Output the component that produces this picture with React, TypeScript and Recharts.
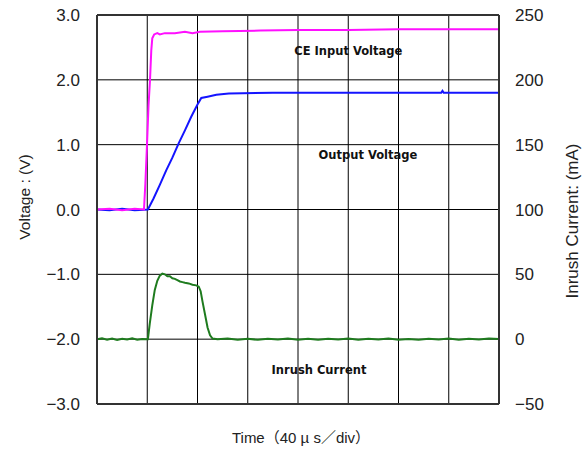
import { LineChart, Line, XAxis, YAxis, CartesianGrid, ReferenceDot, ReferenceLine } from "recharts";

// time in µs (40 µs per division), voltages in V, current in mA
const timeTicks = [0, 40, 80, 120, 160, 200, 240, 280, 320];
const voltTicks = [-3, -2, -1, 0, 1, 2, 3];
const currentTicks = [-50, 0, 50, 100, 150, 200, 250];

const ceInput = [
  { t: 0, v: 0 }, { t: 10, v: 0.01 }, { t: 20, v: -0.01 }, { t: 30, v: 0.01 }, { t: 37.4, v: 0 },
  { t: 38.5, v: 0.4 }, { t: 39.8, v: 1.0 }, { t: 41, v: 1.6 }, { t: 42.2, v: 2.0 }, { t: 43.2, v: 2.45 },
  { t: 44, v: 2.64 }, { t: 45.5, v: 2.7 }, { t: 48, v: 2.72 }, { t: 50, v: 2.7 }, { t: 54, v: 2.72 },
  { t: 62, v: 2.72 }, { t: 70, v: 2.74 }, { t: 76, v: 2.72 }, { t: 82, v: 2.74 }, { t: 100, v: 2.75 },
  { t: 130, v: 2.76 }, { t: 160, v: 2.77 }, { t: 200, v: 2.77 }, { t: 240, v: 2.78 }, { t: 280, v: 2.78 },
  { t: 320, v: 2.78 },
];

const outputV = [
  { t: 0, v: 0 }, { t: 10, v: -0.01 }, { t: 20, v: 0.01 }, { t: 30, v: -0.01 }, { t: 40.5, v: 0 },
  { t: 45, v: 0.17 }, { t: 50, v: 0.38 }, { t: 55, v: 0.6 }, { t: 60, v: 0.8 }, { t: 65, v: 1.02 },
  { t: 70, v: 1.22 }, { t: 75, v: 1.43 }, { t: 80, v: 1.62 }, { t: 83, v: 1.72 }, { t: 88, v: 1.74 },
  { t: 95, v: 1.77 }, { t: 105, v: 1.79 }, { t: 140, v: 1.8 }, { t: 200, v: 1.8 }, { t: 274, v: 1.8 },
  { t: 275, v: 1.83 }, { t: 276, v: 1.8 }, { t: 320, v: 1.8 },
];

const inrush = [
  { t: 0, i: 0 }, { t: 4, i: 0.6 }, { t: 8, i: -0.4 }, { t: 12, i: 0.5 }, { t: 16, i: -0.6 },
  { t: 20, i: 0.3 }, { t: 24, i: -0.3 }, { t: 28, i: 0.6 }, { t: 32, i: -0.5 }, { t: 36, i: 0.2 },
  { t: 40.5, i: 0 }, { t: 42, i: 12 }, { t: 44, i: 26 }, { t: 46, i: 38 }, { t: 48, i: 45 },
  { t: 50, i: 49 }, { t: 52, i: 50.5 }, { t: 54, i: 50 }, { t: 56, i: 48.5 }, { t: 58, i: 48.5 },
  { t: 60, i: 47 }, { t: 62, i: 46.5 }, { t: 64, i: 45.5 }, { t: 66, i: 44.5 }, { t: 68, i: 44 },
  { t: 70, i: 43.5 }, { t: 73, i: 43 }, { t: 76, i: 42 }, { t: 79, i: 41.5 }, { t: 81, i: 40.5 },
  { t: 82.5, i: 37 }, { t: 84, i: 29 }, { t: 86, i: 19 }, { t: 88, i: 9 }, { t: 90, i: 3 },
  { t: 92, i: 0.5 }, { t: 96, i: 0 }, { t: 104, i: 0.5 }, { t: 112, i: -0.4 }, { t: 120, i: 0.3 },
  { t: 128, i: -0.5 }, { t: 136, i: 0.4 }, { t: 144, i: -0.3 }, { t: 152, i: 0.6 }, { t: 160, i: -0.4 },
  { t: 168, i: 0.3 }, { t: 176, i: -0.5 }, { t: 184, i: 0.4 }, { t: 192, i: -0.2 }, { t: 200, i: 0.5 },
  { t: 208, i: -0.5 }, { t: 216, i: 0.3 }, { t: 224, i: -0.3 }, { t: 232, i: 0.5 }, { t: 240, i: -0.4 },
  { t: 248, i: 0.2 }, { t: 256, i: -0.5 }, { t: 264, i: 0.4 }, { t: 272, i: -0.3 }, { t: 280, i: 0.5 },
  { t: 288, i: -0.4 }, { t: 296, i: 0.3 }, { t: 304, i: -0.3 }, { t: 312, i: 0.6 }, { t: 320, i: 0.2 },
];

const FONT = "'Liberation Sans', Arial, 'Noto Sans CJK JP', sans-serif";

const fmtVolt = (v: number) => (v < 0 ? "\u2212" : "") + Math.abs(v).toFixed(1);
const fmtCurrent = (v: number) => (v < 0 ? "\u2212" + Math.abs(v) : String(v));

const AxisTitle = ({ viewBox, value, dx = 0, dy = 0, angle = 0, size = 15 }: any) => {
  const cx = viewBox.x + viewBox.width / 2 + dx;
  const cy = viewBox.y + viewBox.height / 2 + dy;
  return (
    <text
      x={cx}
      y={cy}
      textAnchor="middle"
      dominantBaseline="central"
      transform={angle ? `rotate(${angle} ${cx} ${cy})` : undefined}
      fontSize={size}
      fontFamily={FONT}
      fill="#222"
    >
      {value}
    </text>
  );
};

const Note = ({ viewBox, value }: any) => (
  <text
    x={viewBox.x}
    y={viewBox.y}
    textAnchor="middle"
    dominantBaseline="central"
    fontSize={11.5}
    fontWeight="bold"
    fontFamily="'DejaVu Sans', sans-serif"
    fill="#111"
  >
    {value}
  </text>
);

const tickStyle = { fontSize: 17, fill: "#222", fontFamily: FONT };

export default function App() {
  return (
    <div style={{ position: "absolute", left: 0, top: 0, background: "#fff" }}>
      <LineChart width={588} height={451} margin={{ top: 15, right: 0, bottom: 0, left: 0 }}>
        <CartesianGrid yAxisId="v" stroke="#000" strokeWidth={1} />
        <XAxis
          dataKey="t"
          type="number"
          domain={[0, 320]}
          ticks={timeTicks}
          tickFormatter={() => ""}
          tickLine={false}
          height={47}
          axisLine={{ stroke: "#333", strokeWidth: 2 }}
          allowDataOverflow
          label={{ value: "Time（40 µ s／div）", content: (p: any) => <AxisTitle {...p} value="Time（40 µ s／div）" dx={3} dy={9.5} size={15} /> }}
        />
        <YAxis
          yAxisId="v"
          orientation="left"
          width={97}
          domain={[-3, 3]}
          ticks={voltTicks}
          tickFormatter={fmtVolt}
          tick={tickStyle}
          tickLine={false}
          tickMargin={11}
          axisLine={{ stroke: "#333", strokeWidth: 2 }}
          allowDataOverflow
          label={{ value: "Voltage : (V)", content: (p: any) => <AxisTitle {...p} value="Voltage : (V)" dx={-24.5} dy={-12.5} angle={-90} size={15.5} /> }}
        />
        <YAxis
          yAxisId="i"
          orientation="right"
          width={89}
          domain={[-50, 250]}
          ticks={currentTicks}
          tickFormatter={fmtCurrent}
          tick={tickStyle}
          tickLine={false}
          tickMargin={10}
          axisLine={{ stroke: "#333", strokeWidth: 2 }}
          allowDataOverflow
          label={{ value: "Inrush Current: (mA)", content: (p: any) => <AxisTitle {...p} value="Inrush Current: (mA)" dx={28.5} dy={11.5} angle={-90} size={17} /> }}
        />
        <ReferenceLine yAxisId="v" y={3} stroke="#333" strokeWidth={2} />
        <Line yAxisId="i" data={inrush} dataKey="i" stroke="#1e7b1e" strokeWidth={2} dot={false} isAnimationActive={false} />
        <Line yAxisId="v" data={outputV} dataKey="v" stroke="#1414ff" strokeWidth={2} dot={false} isAnimationActive={false} />
        <Line yAxisId="v" data={ceInput} dataKey="v" stroke="#ff10ff" strokeWidth={2} dot={false} isAnimationActive={false} />
        <ReferenceDot yAxisId="v" x={200} y={2.445} r={0} fill="none" stroke="none" label={{ value: "CE Input Voltage", content: (p: any) => <Note {...p} value="CE Input Voltage" /> }} />
        <ReferenceDot yAxisId="v" x={215.7} y={0.84} r={0} fill="none" stroke="none" label={{ value: "Output Voltage", content: (p: any) => <Note {...p} value="Output Voltage" /> }} />
        <ReferenceDot yAxisId="v" x={176.7} y={-2.476} r={0} fill="none" stroke="none" label={{ value: "Inrush Current", content: (p: any) => <Note {...p} value="Inrush Current" /> }} />
      </LineChart>
    </div>
  );
}
